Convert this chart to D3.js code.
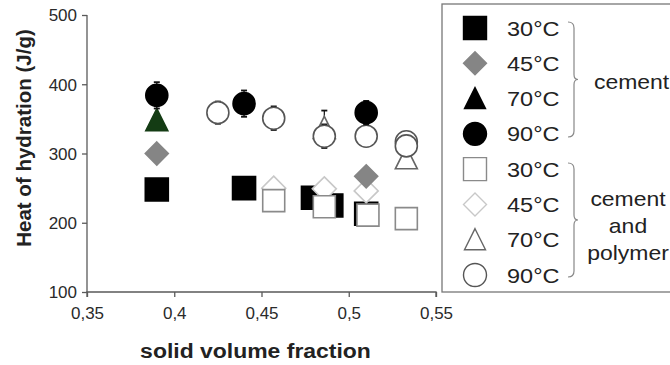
<!DOCTYPE html>
<html>
<head>
<meta charset="utf-8">
<script src="https://cdn.jsdelivr.net/npm/d3@7"></script>
<style>
  html, body { margin: 0; padding: 0; background: #fff; }
  svg { display: block; font-family: "Liberation Sans", Arial, sans-serif; }
</style>
</head>
<body>
<svg id="chart" width="670" height="365"></svg>
<script>
// x ticks / y ticks
const xTicks = [0.35, 0.4, 0.45, 0.5, 0.55]
const yTicks = [100, 200, 300, 400, 500]

// cement
const c30X = [0.39, 0.44, 0.4795, 0.49, 0.51]
const c30Y = [248, 250, 236, 225, 213]
const c45X = [0.39, 0.51]
const c45Y = [300, 267]
const c70X = [0.39]
const c70Y = [348]
const c90X = [0.39, 0.44, 0.51]
const c90Y = [384, 372, 359]
const c90Err = [19, 19, 17]

// cement and polymer
const p30X = [0.457, 0.486, 0.511, 0.533]
const p30Y = [232, 223, 211, 206]
const p45X = [0.457, 0.486, 0.51]
const p45Y = [250, 249, 246]
const p70X = [0.486, 0.533]
const p70Y = [337, 293]
const p70Err = [25, 0]
const p90X = [0.425, 0.457, 0.486, 0.51, 0.533, 0.533]
const p90Y = [359, 351, 325, 325, 317, 311]
const p90Err = [16, 17, 17, 0, 0, 0]

const legendTemps = ['30°C', '45°C', '70°C', '90°C']

const svg = d3.select('#chart')
const margin = {left: 87, top: 15, right: 234, bottom: 73}
const width = 670 - margin.left - margin.right
const height = 365 - margin.top - margin.bottom

const x = d3.scaleLinear().domain([0.35, 0.55]).range([0, width])
const y = d3.scaleLinear().domain([100, 500]).range([height, 0])

const g = svg.append('g').attr('transform', `translate(${margin.left},${margin.top})`)

const axisColor = '#5a5a5a'
const textColor = '#222'
// 原图文字横向略有拉伸
const stretch = 1.12

// 横向拉伸的文字
function wideText(parent, tx, ty, str, size, opts = {}) {
  return parent.append('text')
    .attr('transform', `translate(${tx},${ty}) scale(${stretch},1)`)
    .attr('text-anchor', opts.anchor || 'start')
    .attr('dy', opts.dy || null)
    .attr('font-size', size)
    .attr('font-weight', opts.bold ? 'bold' : null)
    .attr('fill', textColor)
    .text(str)
}

// 坐标轴
const xAxis = g.append('g')
  .attr('transform', `translate(0,${height})`)
  .call(d3.axisBottom(x).tickValues(xTicks).tickSize(5).tickFormat(d => String(d).replace('.', ',')))
const yAxis = g.append('g')
  .call(d3.axisLeft(y).tickValues(yTicks).tickSize(5))
;[xAxis, yAxis].forEach(a => {
  a.select('.domain').attr('stroke', axisColor).attr('stroke-width', 1.3)
  a.selectAll('.tick line').attr('stroke', axisColor).attr('stroke-width', 1.3)
  a.selectAll('.tick text').attr('fill', '#2a2a2a').attr('font-size', 17)
    .attr('font-family', '"Liberation Sans", Arial, sans-serif')
})
xAxis.selectAll('.tick text').attr('dy', '1.1em')
yAxis.selectAll('.tick text').attr('x', -10).attr('dy', '0.35em')
xAxis.select('.domain').attr('d', `M0,5V0H${width}V5`)
yAxis.select('.domain').attr('d', `M0,0V${height}`)

// 轴标题
wideText(svg, margin.left + width / 2 - 6, 358, 'solid volume fraction', 20.5, {anchor: 'middle', bold: true})
svg.append('text')
  .attr('transform', 'translate(31,138) rotate(-90)')
  .attr('text-anchor', 'middle')
  .attr('font-size', 20.5).attr('font-weight', 'bold').attr('fill', textColor)
  .text('Heat of hydration (J/g)')

// 符号路径
const shapes = {
  square: s => `M${-s},${-s}H${s}V${s}H${-s}Z`,
  diamond: s => `M0,${-s}L${s},0L0,${s}L${-s},0Z`,
  triangle: s => `M0,${-s * 1.05}L${s},${s * 0.95}H${-s}Z`,
  circle: s => `M${-s},0A${s},${s} 0 1,0 ${s},0A${s},${s} 0 1,0 ${-s},0Z`,
}

const series = {
  c30: {xs: c30X, ys: c30Y, shape: 'square', r: 11.5, fill: '#000', stroke: '#000'},
  c45: {xs: c45X, ys: c45Y, shape: 'diamond', r: 11.5, fill: '#858585', stroke: '#858585'},
  c70: {xs: c70X, ys: c70Y, shape: 'triangle', r: 11, fill: '#143c14', stroke: '#143c14'},
  c90: {xs: c90X, ys: c90Y, err: c90Err, shape: 'circle', r: 11, fill: '#000', stroke: '#000'},
  p30: {xs: p30X, ys: p30Y, shape: 'square', r: 11, fill: '#fff', stroke: '#8a8a8a'},
  p45: {xs: p45X, ys: p45Y, shape: 'diamond', r: 12, fill: '#fff', stroke: '#c8c8c8'},
  p70: {xs: p70X, ys: p70Y, err: p70Err, shape: 'triangle', r: 11, fill: '#fff', stroke: '#666'},
  p90: {xs: p90X, ys: p90Y, err: p90Err, shape: 'circle', r: 11, fill: '#fff', stroke: '#555'},
}

// 绘制顺序（决定覆盖关系）
const drawOrder = ['c30', 'p45', 'p30', 'c45', 'p70', 'c70', 'p90', 'c90']

drawOrder.forEach(key => {
  const s = series[key]
  const pts = s.xs.map((v, i) => ({x: v, y: s.ys[i], e: s.err ? s.err[i] : 0}))
  const grp = g.append('g').attr('class', 'series-' + key)
  // 误差线
  grp.selectAll('g.err').data(pts.filter(d => d.e > 0)).join('g').attr('class', 'err')
    .each(function (d) {
      const e = d3.select(this)
      const px = x(d.x)
      e.append('line').attr('x1', px).attr('x2', px).attr('y1', y(d.y + d.e)).attr('y2', y(d.y - d.e))
        .attr('stroke', '#111').attr('stroke-width', 1.2)
      ;[d.y + d.e, d.y - d.e].forEach(v => {
        e.append('line').attr('x1', px - 3).attr('x2', px + 3).attr('y1', y(v)).attr('y2', y(v))
          .attr('stroke', '#111').attr('stroke-width', 1.8)
      })
    })
  grp.selectAll('path.pt').data(pts).join('path').attr('class', 'pt')
    .attr('transform', d => `translate(${x(d.x)},${y(d.y)})`)
    .attr('d', shapes[s.shape](s.r))
    .attr('fill', s.fill)
    .attr('stroke', s.stroke)
    .attr('stroke-width', 1.6)
})

// 图例
const lg = svg.append('g')
lg.append('rect').attr('x', 442).attr('y', 4).attr('width', 240).attr('height', 288)
  .attr('fill', '#fff').attr('stroke', '#777').attr('stroke-width', 1.3)

const legendKeys = ['c30', 'c45', 'c70', 'c90', 'p30', 'p45', 'p70', 'p90']
const rowY = d3.scaleLinear().domain([0, 7]).range([28, 275])
legendKeys.forEach((key, i) => {
  const s = series[key]
  const cy = rowY(i)
  lg.append('path').attr('transform', `translate(475,${cy})`)
    .attr('d', shapes[s.shape](key === 'c70' || key === 'p70' ? 10.5 : 11.5))
    .attr('fill', s.fill === '#143c14' ? '#000' : s.fill)
    .attr('stroke', s.stroke === '#143c14' ? '#000' : s.stroke)
    .attr('stroke-width', 1.4)
  wideText(lg, 507, cy, legendTemps[i % 4], 21, {dy: '0.36em'})
})

// 大括号
function brace(y0, y1) {
  const xm = 568, xt = 574
  const mid = (y0 + y1) / 2
  return `M${xm},${y0}Q${xt},${y0} ${xt},${y0 + 6}V${mid - 5}Q${xt},${mid} ${xt + 4},${mid}` +
    `Q${xt},${mid} ${xt},${mid + 5}V${y1 - 6}Q${xt},${y1} ${xm},${y1}`
}
lg.append('path').attr('d', brace(22, 137)).attr('fill', 'none').attr('stroke', '#888').attr('stroke-width', 1.2)
lg.append('path').attr('d', brace(163, 277)).attr('fill', 'none').attr('stroke', '#888').attr('stroke-width', 1.2)

wideText(lg, 594, 82, 'cement', 20.5, {dy: '0.36em'})
;['cement', 'and', 'polymer'].forEach((t, i) => {
  wideText(lg, 628, 199 + i * 27, t, 20.5, {dy: '0.36em', anchor: 'middle'})
})
</script>
</body>
</html>
